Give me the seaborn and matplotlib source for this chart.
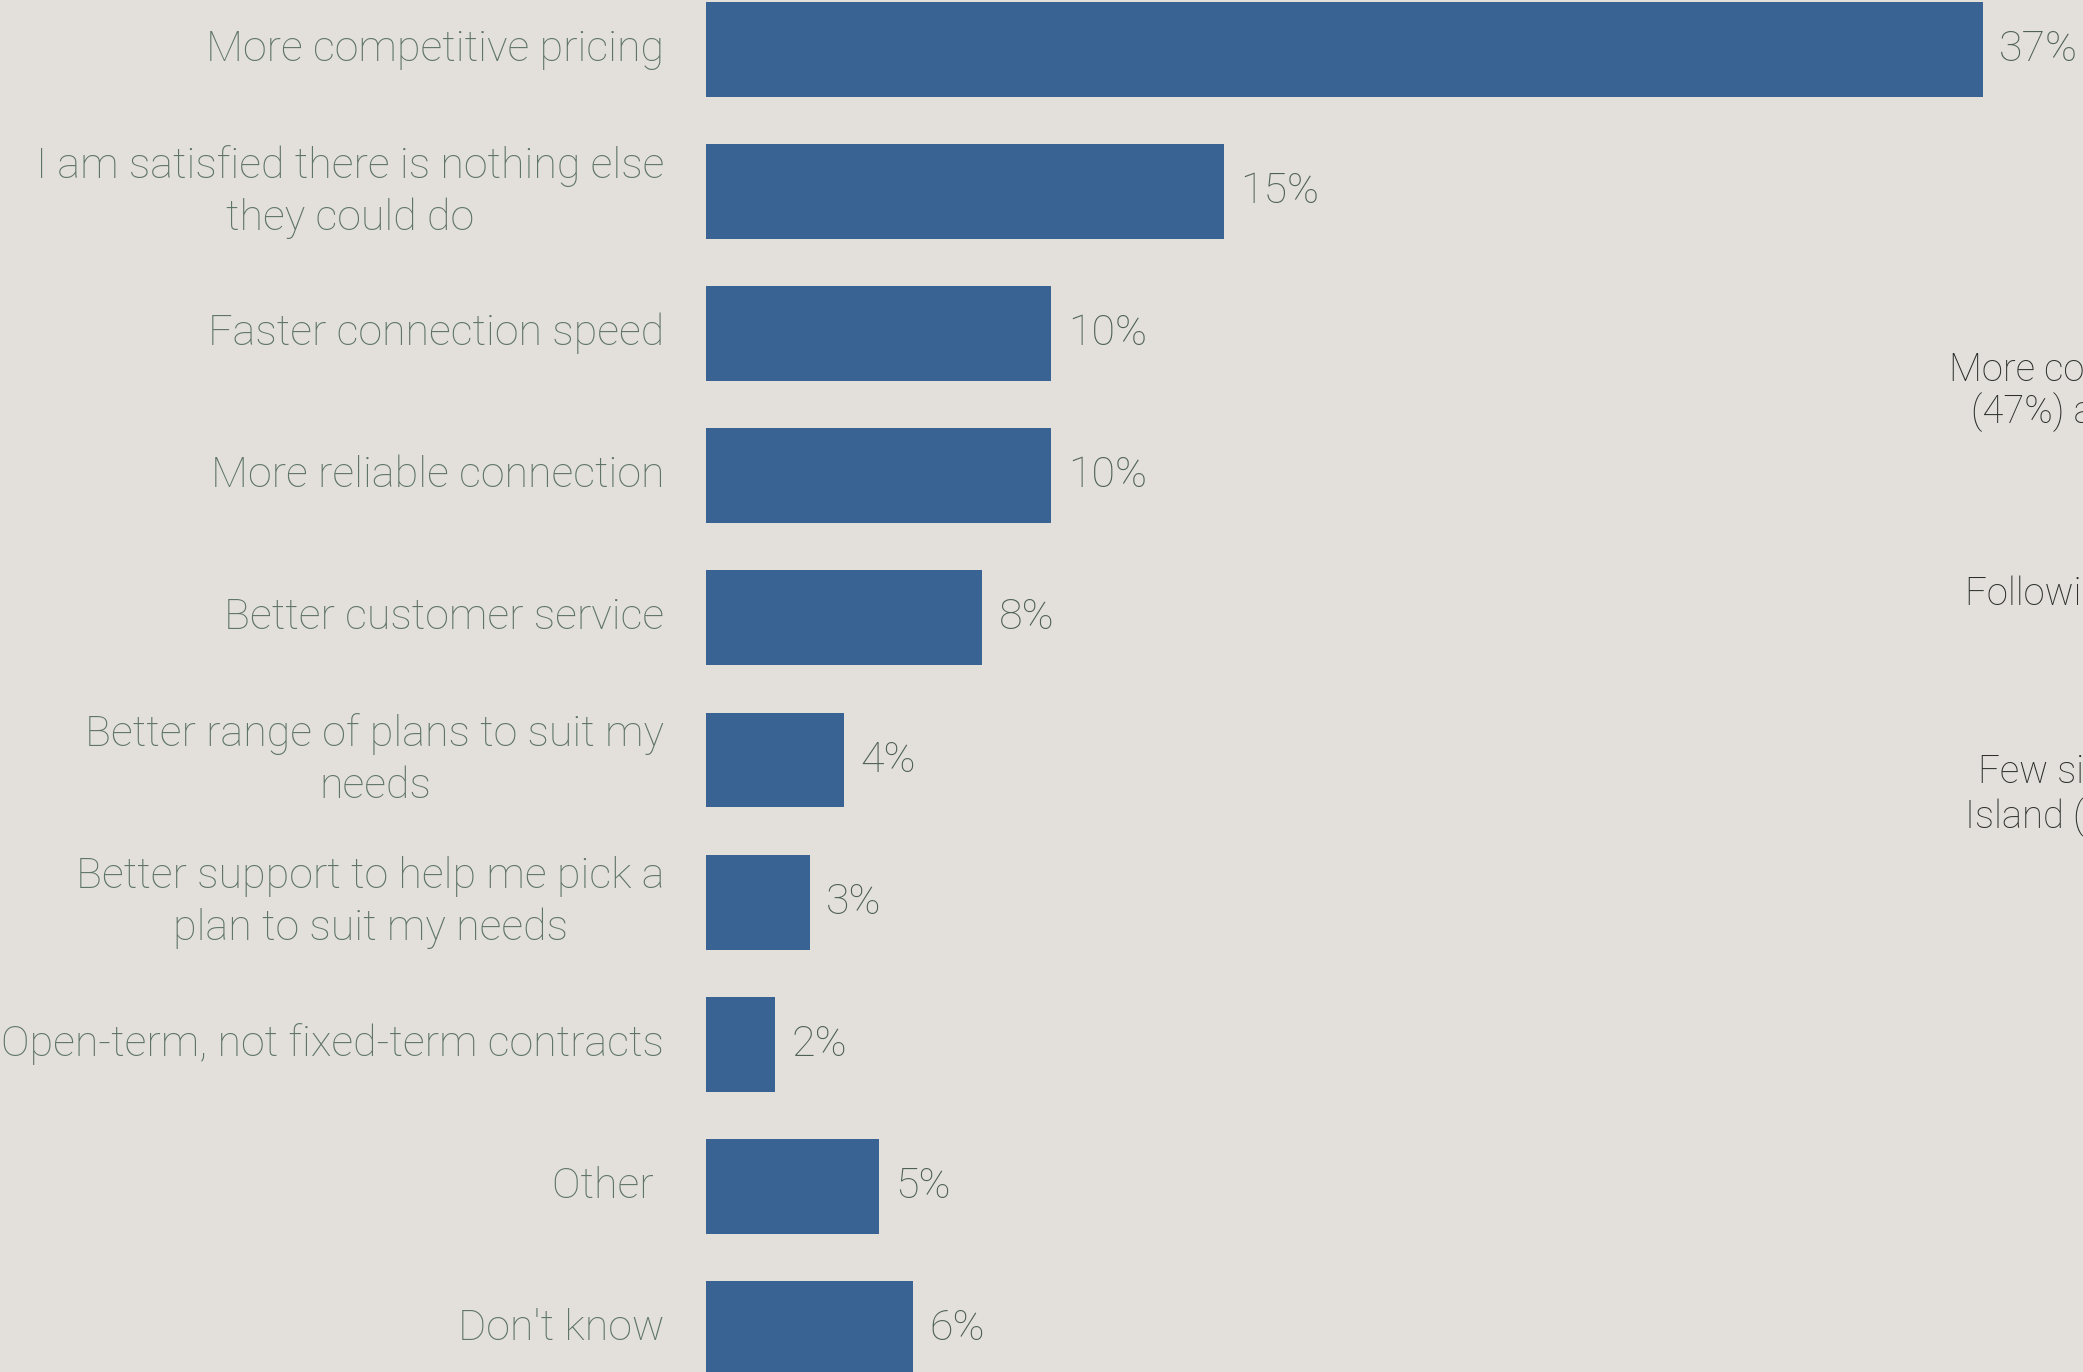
import matplotlib
matplotlib.use("Agg")
import matplotlib.pyplot as plt
import seaborn as sns
import pandas as pd

# Survey responses: what would improve the provider's service
categories = [
    "More competitive pricing",
    "I am satisfied there is nothing else\nthey could do",
    "Faster connection speed",
    "More reliable connection",
    "Better customer service",
    "Better range of plans to suit my\nneeds",
    "Better support to help me pick a\nplan to suit my needs",
    "Open-term, not fixed-term contracts",
    "Other ",
    "Don't know",
]
percentages = [37, 15, 10, 10, 8, 4, 3, 2, 5, 6]

# Side commentary lines (left edge, baseline in figure pixels)
side_lines = [
    "More competitive pricing was",
    "(47%) and most often by",
    "Following this, many",
    "Few singled out",
    "Island (",
]
side_pos = [(1949, 381), (1971, 423), (1965, 605), (1978, 783), (1965, 828)]

BG = "#e3e0db"
BAR = "#386393"
LABEL = "#5f7567"
VALUE = "#4f6155"
SIDE = "#2c2f2c"

W, H = 2083, 1372
DPI = 100

sns.set_theme(style="white")
plt.rcParams["font.family"] = ["Roboto", "DejaVu Sans"]

df = pd.DataFrame({"reason": categories, "pct": percentages})

fig = plt.figure(figsize=(W / DPI, H / DPI), dpi=DPI, facecolor=BG)
x0 = 706
ax = fig.add_axes([x0 / W, 0, 1 - x0 / W, 1])
ax.set_facecolor(BG)

sns.barplot(data=df, y="reason", x="pct", orient="h", color=BAR,
            saturation=1, width=0.668, linewidth=0, ax=ax)

px_per_pct = 34.5
pitch = 142.1
ax.set_xlim(0, (W - x0) / px_per_pct)
top = -49.5 / pitch
ax.set_ylim(top + H / pitch, top)

for c in ax.containers:
    ax.bar_label(c, labels=[f"{v}%" for v in percentages], padding=12,
                 fontsize=31, color=VALUE, fontweight="light")

ax.tick_params(axis="y", length=0, pad=30, labelsize=31, labelcolor=LABEL)
for lab in ax.get_yticklabels():
    lab.set_multialignment("center")
    lab.set_verticalalignment("center")
    lab.set_fontweight("light")
    lab.set_linespacing(1.32)
ax.set_xticks([])
ax.set_xlabel("")
ax.set_ylabel("")
for s in ax.spines.values():
    s.set_visible(False)

for txt, (px, py) in zip(side_lines, side_pos):
    fig.text(px / W, 1 - py / H, txt, ha="left", va="baseline",
             fontsize=27.5, color=SIDE, fontweight="light")

fig.savefig("out.png", dpi=DPI, facecolor=BG)
